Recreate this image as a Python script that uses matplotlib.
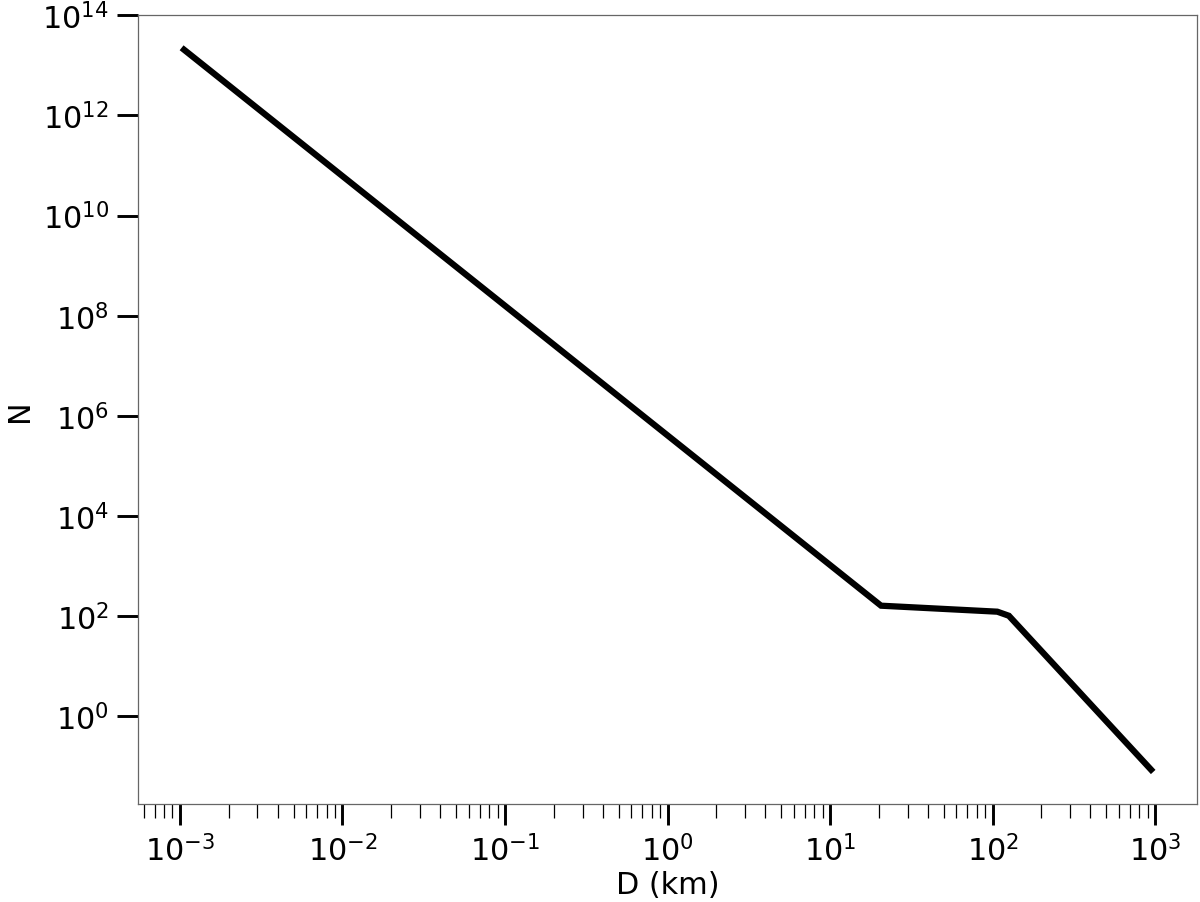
import matplotlib
matplotlib.use("Agg")
import matplotlib.pyplot as plt
from matplotlib.ticker import LogLocator, NullLocator, NullFormatter

# size-frequency curve
diameter_km = [1.06e-3, 20.6, 107.0, 126.0, 945.0]
number = [2.05e13, 162.0, 123.0, 102.0, 0.086]

plt.rcParams["font.family"] = "DejaVu Sans"
plt.rcParams["font.size"] = 14.5

fig = plt.figure(figsize=(8, 6.02), dpi=150)
ax = fig.add_axes([0.115, 0.108, 0.8825, 0.874])

ax.plot(diameter_km, number, color="black", lw=3.0, solid_joinstyle="miter")
ax.set_xscale("log")
ax.set_yscale("log")
ax.set_xlim(10 ** -3.258, 10 ** 3.258)
ax.set_ylim(10 ** -1.76, 1e14)

ax.xaxis.set_major_locator(LogLocator(base=10, numticks=20))
ax.xaxis.set_minor_locator(LogLocator(base=10, subs=range(2, 10), numticks=100))
ax.xaxis.set_minor_formatter(NullFormatter())
ax.yaxis.set_major_locator(LogLocator(base=10, subs=[1.0], numticks=8))
ax.yaxis.set_minor_locator(NullLocator())

ax.tick_params(which="major", length=10, width=1.4, pad=4, labelsize=14.5)
ax.tick_params(which="minor", length=6.5, width=0.6)
for spine in ax.spines.values():
    spine.set_color("#666666")
    spine.set_linewidth(0.6)

ax.set_xlabel("D (km)", fontsize=14.5, labelpad=2)
ax.set_ylabel("N", fontsize=14.5, labelpad=4)

fig.savefig("out.png", dpi=150)
